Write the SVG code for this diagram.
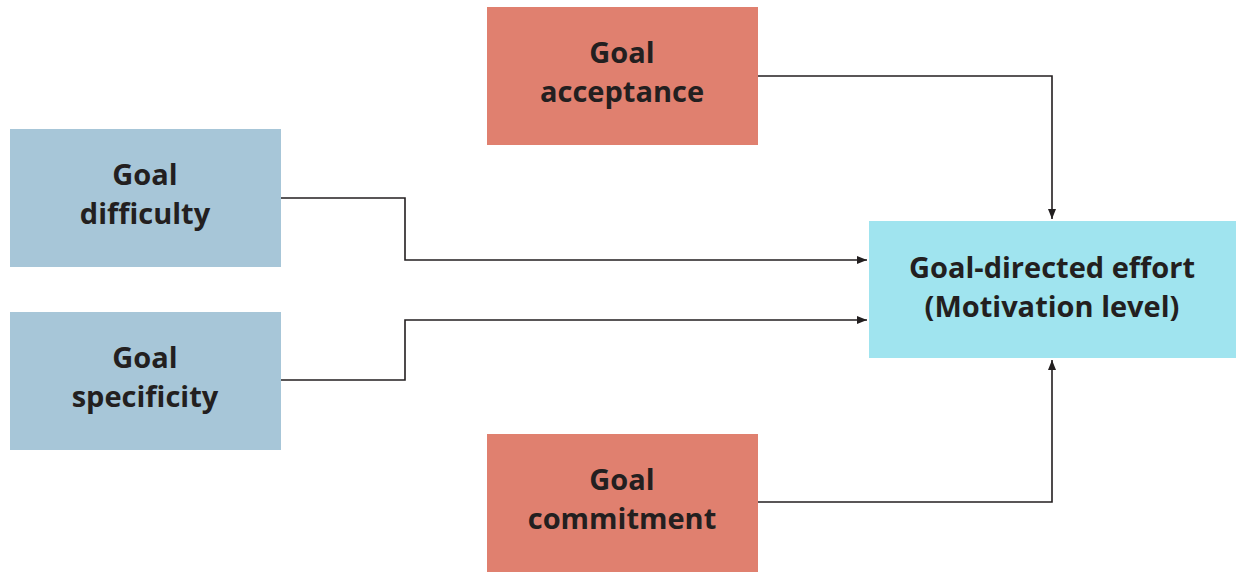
<svg xmlns="http://www.w3.org/2000/svg" width="1236" height="572" viewBox="0 0 1236 572">
<style>
.t{font-family:"Open Sans","Noto Sans",sans-serif;font-weight:700;font-size:29px;fill:#231f20;text-anchor:middle}
.blue{fill:#a7c6d8}
.red{fill:#e0806f}
.cyan{fill:#a0e4ef}
.c{fill:none;stroke:#231f20;stroke-width:1.6}
</style>
<defs>
<marker id="ah" markerWidth="10" markerHeight="8" refX="10" refY="4" orient="auto" markerUnits="userSpaceOnUse">
<path d="M0,0 L10,4 L0,8 Z" fill="#231f20"/>
</marker>
</defs>
<rect width="1236" height="572" fill="#ffffff"/>
<g id="connectors">
<polyline class="c" points="758,76 1052,76 1052,219" marker-end="url(#ah)"/>
<polyline class="c" points="281,198 405,198 405,260 867,260" marker-end="url(#ah)"/>
<polyline class="c" points="281,380 405,380 405,320 867,320" marker-end="url(#ah)"/>
<polyline class="c" points="758,502 1052,502 1052,360" marker-end="url(#ah)"/>
</g>
<g id="acceptance">
<rect class="red" x="487" y="7" width="271" height="138"/>
<text class="t" x="622" y="63">Goal</text>
<text class="t" x="622" y="102">acceptance</text>
</g>
<g id="difficulty">
<rect class="blue" x="10" y="129" width="271" height="138"/>
<text class="t" x="145" y="185">Goal</text>
<text class="t" x="145" y="224">difficulty</text>
</g>
<g id="specificity">
<rect class="blue" x="10" y="312" width="271" height="138"/>
<text class="t" x="145" y="368">Goal</text>
<text class="t" x="145" y="407">specificity</text>
</g>
<g id="commitment">
<rect class="red" x="487" y="434" width="271" height="138"/>
<text class="t" x="622" y="490">Goal</text>
<text class="t" x="622" y="529">commitment</text>
</g>
<g id="effort">
<rect class="cyan" x="869" y="221" width="367" height="137"/>
<text class="t" x="1052" y="278">Goal-directed effort</text>
<text class="t" x="1052" y="317">(Motivation level)</text>
</g>
</svg>
